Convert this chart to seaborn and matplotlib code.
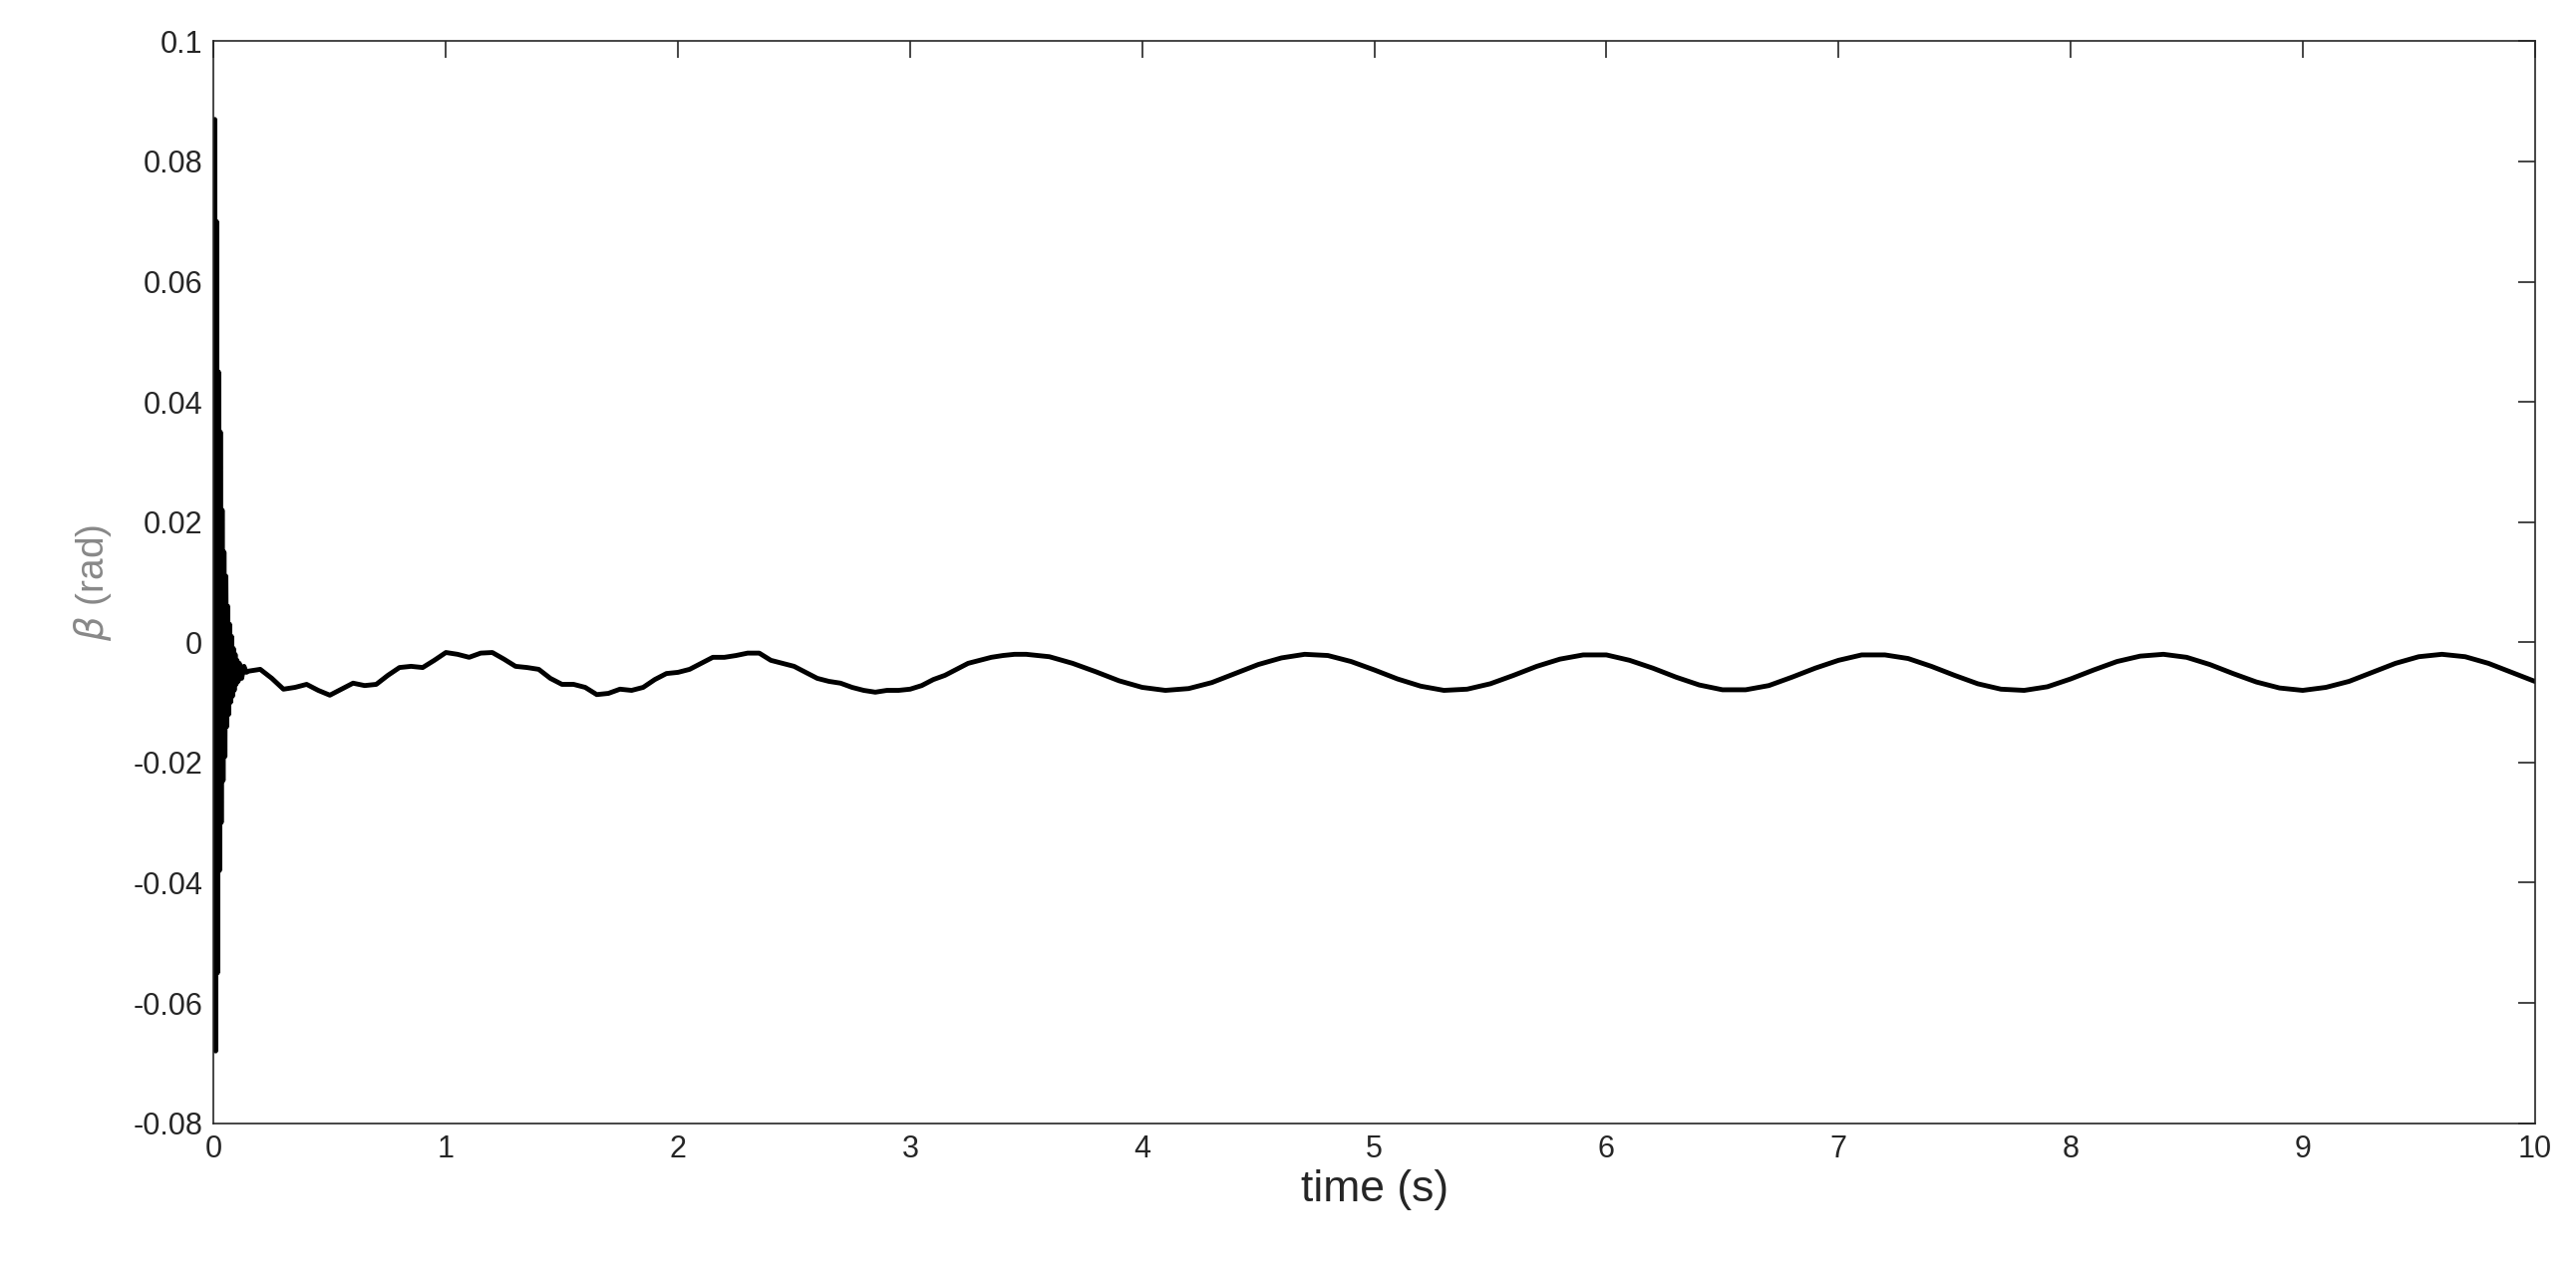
import numpy as np
import pandas as pd
import matplotlib
matplotlib.use("Agg")
import matplotlib.pyplot as plt
import seaborn as sns

# initial high-frequency burst (0 - 0.15 s)
t_burst = [0.000, 0.004, 0.008, 0.012, 0.016, 0.020, 0.024, 0.028, 0.032, 0.036,
           0.040, 0.044, 0.048, 0.052, 0.056, 0.060, 0.064, 0.068, 0.072, 0.076,
           0.080, 0.084, 0.088, 0.092, 0.096, 0.100, 0.105, 0.110, 0.120, 0.130, 0.140]
beta_burst = [0.000, 0.087, -0.068, 0.070, -0.055, 0.045, -0.038, 0.035, -0.030, 0.022,
              -0.023, 0.015, -0.019, 0.011, -0.014, 0.006, -0.012, 0.003, -0.010, 0.001,
              -0.009, -0.001, -0.008, -0.002, -0.007, -0.003, -0.0065, -0.0035, -0.006, -0.004, -0.005]

# transient with ripple (0.15 - 3.4 s)
t_mid = [0.15, 0.20, 0.25, 0.30, 0.35, 0.40, 0.45, 0.50, 0.55, 0.60, 0.65, 0.70,
         0.75, 0.80, 0.85, 0.90, 0.95, 1.00, 1.05, 1.10, 1.15, 1.20, 1.25, 1.30,
         1.35, 1.40, 1.45, 1.50, 1.55, 1.60, 1.65, 1.70, 1.75, 1.80, 1.85, 1.90,
         1.95, 2.00, 2.05, 2.10, 2.15, 2.20, 2.25, 2.30, 2.35, 2.40, 2.45, 2.50,
         2.55, 2.60, 2.65, 2.70, 2.75, 2.80, 2.85, 2.90, 2.95, 3.00, 3.05, 3.10,
         3.15, 3.20, 3.25, 3.30, 3.35, 3.40, 3.45]
beta_mid = [-0.0048, -0.0045, -0.0060, -0.0078, -0.0075, -0.0070, -0.0080, -0.0088, -0.0078, -0.0068, -0.0072, -0.0070,
            -0.0055, -0.0042, -0.0040, -0.0042, -0.0030, -0.0017, -0.0020, -0.0025, -0.0018, -0.0017, -0.0028, -0.0040,
            -0.0042, -0.0045, -0.0060, -0.0070, -0.0070, -0.0075, -0.0087, -0.0085, -0.0078, -0.0080, -0.0075, -0.0062,
            -0.0052, -0.0050, -0.0045, -0.0035, -0.0025, -0.0025, -0.0022, -0.0018, -0.0018, -0.0030, -0.0035, -0.0040,
            -0.0050, -0.0060, -0.0065, -0.0068, -0.0075, -0.0080, -0.0083, -0.0080, -0.0080, -0.0078, -0.0072, -0.0062,
            -0.0055, -0.0045, -0.0035, -0.0030, -0.0025, -0.0022, -0.0020]

# steady oscillation (3.5 - 10 s)
t_steady = [round(3.5 + 0.1 * k, 2) for k in range(66)]
beta_steady = [-0.0020, -0.0024, -0.0035, -0.0049, -0.0064, -0.0075, -0.0080, -0.0077, -0.0067, -0.0052,
               -0.0037, -0.0026, -0.0020, -0.0022, -0.0032, -0.0046, -0.0061, -0.0073, -0.0080, -0.0078,
               -0.0069, -0.0055, -0.0040, -0.0028, -0.0021, -0.0021, -0.0030, -0.0043, -0.0058, -0.0071,
               -0.0079, -0.0079, -0.0072, -0.0058, -0.0043, -0.0030, -0.0021, -0.0021, -0.0027, -0.0040,
               -0.0055, -0.0069, -0.0078, -0.0080, -0.0074, -0.0061, -0.0046, -0.0032, -0.0023, -0.0020,
               -0.0025, -0.0037, -0.0052, -0.0066, -0.0076, -0.0080, -0.0075, -0.0065, -0.0050, -0.0035,
               -0.0024, -0.0020, -0.0024, -0.0035, -0.0050, -0.0065]

df = pd.DataFrame({"t": t_burst + t_mid + t_steady,
                   "beta": beta_burst + beta_mid + beta_steady})

sns.set_style("white")
plt.rcParams['font.family'] = ['Liberation Sans', 'DejaVu Sans']
plt.rcParams['mathtext.fontset'] = 'dejavusans'

fig = plt.figure(figsize=(25.84, 12.92), dpi=100)
ax = fig.add_axes([0.083, 0.128, 0.901, 0.84])
sns.lineplot(data=df, x="t", y="beta", ax=ax, color="black", linewidth=3.5,
             estimator=None, sort=False)

ax.set_xlim(0, 10)
ax.set_ylim(-0.08, 0.1)
ax.set_xticks(range(0, 11))
ax.set_yticks([-0.08, -0.06, -0.04, -0.02, 0, 0.02, 0.04, 0.06, 0.08, 0.1])
ax.set_yticklabels(["-0.08", "-0.06", "-0.04", "-0.02", "0", "0.02", "0.04", "0.06", "0.08", "0.1"])
ax.tick_params(direction="in", length=12, width=1.2, labelsize=22, colors="#262626",
               top=True, right=True, pad=8)
for s in ax.spines.values():
    s.set_color("#262626")
    s.set_linewidth(1.2)
ax.set_xlabel("time (s)", fontsize=32, color="#262626")
ax.set_ylabel(r"$\beta$ (rad)", fontsize=28, color="#888888", labelpad=14)

fig.savefig("out.png", dpi=100)
